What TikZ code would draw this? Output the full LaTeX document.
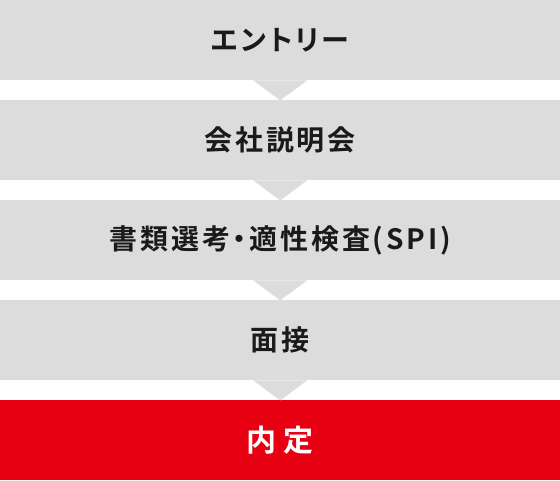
\documentclass[tikz,border=0pt]{standalone}
\usepackage{fontspec}
\newfontfamily\jp{Noto Sans CJK JP}[BoldFont={Noto Sans CJK JP Bold},RawFeature=+palt,LetterSpace=10]
\newfontfamily\jpbig{Noto Sans CJK JP}[BoldFont={Noto Sans CJK JP Bold},RawFeature=+palt,LetterSpace=22]
\definecolor{stepgray}{HTML}{DCDCDC}
\definecolor{stepred}{HTML}{E60012}
\definecolor{steptext}{HTML}{1A1A1A}
\begin{document}
\begin{tikzpicture}[x=1pt,y=-1pt,
  stepbox/.style={fill=stepgray,draw=none,minimum width=560pt,minimum height=80pt,inner sep=0pt,anchor=north west,text=steptext,font=\jp\bfseries\fontsize{28pt}{32pt}\selectfont},
  finalbox/.style={stepbox,fill=stepred,text=white,font=\jpbig\bfseries\fontsize{30pt}{34pt}\selectfont},
  steparrow/.style={fill=stepgray,draw=none}]
\useasboundingbox (0,0) rectangle (560,480);
\node[stepbox] (b1) at (0,0) {エントリー};
\node[stepbox] (b2) at (0,100) {会社説明会};
\node[stepbox] (b3) at (0,200) {書類選考・適性検査(SPI)};
\node[stepbox] (b4) at (0,300) {面接};
\node[finalbox] (b5) at (0,400) {内定};
\foreach \b in {b1,b2,b3,b4}{
  \fill[steparrow] ([xshift=-27pt]\b.south) -- ([xshift=27pt]\b.south) -- ([yshift=-20pt]\b.south) -- cycle;
}
\end{tikzpicture}
\end{document}
